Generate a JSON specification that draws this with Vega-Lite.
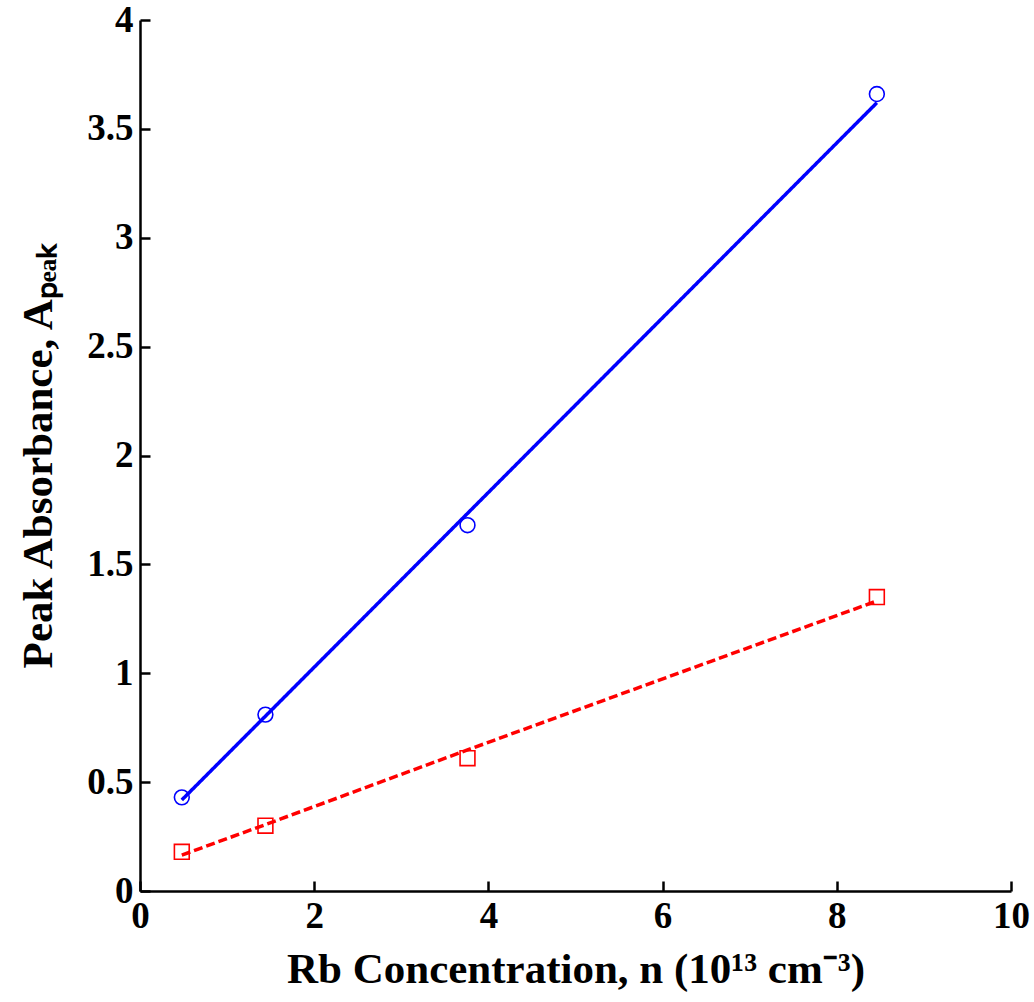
{
  "$schema": "https://vega.github.io/schema/vega-lite/v6.json",
  "width": 871,
  "height": 871,
  "autosize": {"type": "none"},
  "padding": {"left": 140, "top": 20, "right": 23, "bottom": 111},
  "background": "white",
  "data": {
    "values": [
      {"series": "circle", "n": 0.48, "A": 0.43, "fit": 0.418},
      {"series": "circle", "n": 1.44, "A": 0.81, "fit": 0.803},
      {"series": "circle", "n": 3.76, "A": 1.68, "fit": 1.734},
      {"series": "circle", "n": 8.46, "A": 3.66, "fit": 3.620},
      {"series": "square", "n": 0.48, "A": 0.18, "fit": 0.165},
      {"series": "square", "n": 1.44, "A": 0.30, "fit": 0.305},
      {"series": "square", "n": 3.76, "A": 0.61, "fit": 0.648},
      {"series": "square", "n": 8.46, "A": 1.35, "fit": 1.332}
    ]
  },
  "encoding": {
    "x": {
      "field": "n", "type": "quantitative",
      "scale": {"domain": [0, 10], "nice": false},
      "axis": {"values": [0, 2, 4, 6, 8, 10], "format": "d", "title": "Rb Concentration, n (10¹³ cm⁻³)", "titlePadding": 14, "labelPadding": 17, "labelFlush": false}
    },
    "color": {
      "field": "series", "type": "nominal",
      "scale": {"domain": ["circle", "square"], "range": ["#0000ff", "#ff0000"]},
      "legend": null
    }
  },
  "layer": [
    {
      "mark": {"type": "line", "strokeWidth": 3.5},
      "encoding": {
        "y": {
          "field": "fit", "type": "quantitative",
          "scale": {"domain": [0, 4], "nice": false},
          "axis": {"values": [0, 0.5, 1, 1.5, 2, 2.5, 3, 3.5, 4], "format": "~g", "title": "Peak Absorbance, Aₚₑₐₖ", "titlePadding": 26, "labelPadding": 17, "labelFlush": false}
        },
        "strokeDash": {
          "field": "series", "type": "nominal",
          "scale": {"domain": ["circle", "square"], "range": [[1, 0], [9, 4]]},
          "legend": null
        }
      }
    },
    {
      "mark": {"type": "point", "filled": false, "strokeWidth": 1.6, "opacity": 1},
      "encoding": {
        "y": {"field": "A", "type": "quantitative"},
        "shape": {
          "field": "series", "type": "nominal",
          "scale": {"domain": ["circle", "square"], "range": ["circle", "square"]},
          "legend": null
        },
        "size": {"value": 220}
      }
    }
  ],
  "config": {
    "view": {"stroke": null},
    "font": "Liberation Serif",
    "axis": {
      "grid": false,
      "labelFont": "Liberation Serif",
      "labelFontWeight": "bold",
      "labelFontSize": 37,
      "labelColor": "black",
      "titleFont": "Liberation Serif",
      "titleFontWeight": "bold",
      "titleFontSize": 43,
      "titleColor": "black",
      "domainColor": "black",
      "domainWidth": 2.5,
      "tickColor": "black",
      "tickWidth": 2.5,
      "tickSize": -10
    }
  }
}
